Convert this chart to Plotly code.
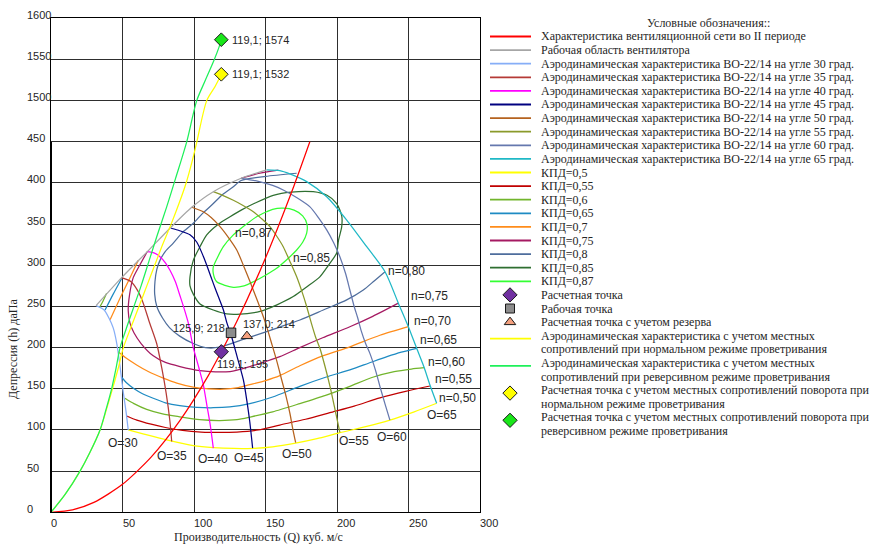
import plotly.graph_objects as go

FIG_W, FIG_H = 870, 545

# ---------------- data ----------------
# ventilation network characteristic (period II)
net_q = [0, 15, 30, 50, 70, 90, 110, 119.1, 130, 150, 170, 181]
net_h = [0, 3, 12, 34, 67, 111, 166, 195, 232, 309, 397, 450]

# working area (surge) boundary
work_q = [31.5, 49.4, 67.3, 83.2, 98.4, 113.5, 133, 150.8]
work_h = [251, 285, 316.5, 345, 370.5, 389.4, 405.7, 416]

# fan characteristics for blade angles 30..65
a30_q = [31.5, 37, 40.5, 43.5, 46, 48.3, 50.6, 52.5, 54]
a30_h = [251, 246, 236, 224, 205, 177, 145, 122, 100]
a35_q = [49.4, 56, 61, 64.5, 69, 73.9, 77.5, 80.5, 83.2, 84.4]
a35_h = [285, 280, 268, 254, 230, 205, 175, 145, 110, 86]
a40_q = [67.3, 72, 76.2, 80, 83.2, 87, 90.2, 93, 96, 99.5, 103.5, 106.5, 109, 111.2, 113.5]
a40_h = [316.5, 315, 310.5, 303, 294, 280, 263, 248, 230, 200, 175, 155, 130, 108, 78]
a45_q = [84, 90, 97.2, 102, 106.5, 110, 113.5, 117, 120.5, 123, 126, 130, 134.5, 137, 139, 141]
a45_h = [345, 342, 337, 328, 311, 295, 278, 262, 246, 230, 215, 190, 161, 135, 110, 78]
a50_q = [98.4, 106.5, 112, 118.2, 124, 129.9, 135, 139.2, 143, 146.5, 150, 154.3, 158, 161.3, 164.5, 167.1, 169, 171.1]
a50_h = [370.5, 365, 358, 347, 334, 318.6, 298, 280, 263, 247, 230, 205, 183, 161, 140, 120, 102, 84.5]
a55_q = [113.5, 120, 127.5, 134, 141.5, 147, 153.1, 158, 162.4, 167, 171.8, 175.5, 178.8, 182, 185, 188.1, 191.5, 195.1, 198, 202]
a55_h = [389.4, 385, 379, 373, 365, 357, 347, 335, 322.6, 305, 286, 268, 250, 230, 213, 199, 178, 153, 130, 97]
a60_q = [133, 145, 155, 162.4, 172, 181.1, 187, 192.8, 197.5, 202, 206, 209, 212, 214.5, 217, 220, 223, 227, 230, 233.5, 237]
a60_h = [405.7, 402, 397, 391.5, 382, 371, 358, 343, 328, 310.5, 290, 270, 250, 236, 220, 205, 193, 172, 153, 132, 112]
a65_q = [150.8, 160, 167, 178.8, 192.8, 206.8, 220.8, 233.6, 242.9, 249.9, 255.7, 261, 265, 269.7]
a65_h = [416, 415, 411, 401.6, 383.3, 355, 322.6, 292.2, 254, 225.4, 199.2, 175.6, 154.6, 132.4]

# efficiency contours
e50_q = [54, 65, 80.9, 99.5, 113.5, 128, 141.5, 155, 171, 186, 202, 220, 237, 254, 269.7]
e50_h = [100, 95, 88, 81, 78.5, 77.5, 77.7, 79.5, 84, 89.5, 96.7, 104, 112, 122, 132.4]
e55_q = [52.9, 60, 70, 80, 92, 105, 118, 130, 145, 160, 178, 195, 212, 230, 248, 265]
e55_h = [117, 112, 107, 103, 99.5, 97.5, 97, 97.5, 100, 106, 113, 121, 129, 139, 147, 153.4]
e60_q = [34, 36.5, 38.9, None, 51.7, 58, 66.9, 78, 90, 104, 118, 130, 140, 155, 174, 192, 209, 225, 240, 252, 261]
e60_h = [249, 257, 266, None, 138.5, 132, 125, 119.5, 116, 112.5, 111.5, 112.5, 116, 122, 132, 142, 153, 164, 170.8, 174, 175.6]
e65_q = [37.8, 43.5, 49.4, None, 49.4, 53, 57.6, 64, 71.5, 80, 90, 102, 113.5, 125, 139, 155, 174, 192, 209, 222, 235, 245, 255.7]
e65_h = [245.7, 265, 284, None, 164, 157, 150.6, 144, 138.5, 133, 129.5, 127.5, 127, 128, 132, 140, 153, 164, 173, 181, 189, 194.5, 199.2]
e70_q = [41.3, 48, 55, 61, None, 47, 52, 59.9, 68, 78.5, 88, 99.5, 110, 120.5, 131, 139, 150, 160, 174, 190, 209, 230, 249.9]
e70_h = [234, 259, 284, 306, None, 195, 188, 179, 171, 163, 157, 152, 150, 149.5, 151.5, 155, 160, 166, 178, 190, 201, 215, 225.4]
e75_q = [67.3, 62, 57.5, 55, 54, 55.2, 58, 63, 71.5, 80, 90.2, 104.2, 115, 125.2, 139, 150, 160, 174, 190, 209, 225, 242.9,
         None, 133, 145, 159]
e75_h = [316.5, 300, 285, 265, 245, 230, 218, 205, 190, 182, 177, 172, 170.5, 171, 177, 183, 189, 200, 212, 225.4, 238, 254,
         None, 405.7, 411.5, 415.6]
e80_q = [233.6, 226, 218.4, 206.8, 190.4, 174.1, 160, 150.8, 134.5, 118, 108, 99.5, 90, 83, 78, 74, 72.5, 72.7, 74, 76.2,
         80, 85.5, 92, 99.5, 106, 113.5, 120, 127.5, 133, 150, 171.8]
e80_h = [292.2, 281, 270, 258, 245.7, 233.6, 225, 219.4, 210, 200.5, 200, 205, 214, 224, 236, 250, 265, 280, 295, 306,
         317, 327, 340, 351, 363, 375, 386, 395.5, 403, 408, 411.8]
e85_q = [97.2, 99.5, 104, 108.9, 117, 125.2, 133, 142, 155.4, 168, 183.4, 193, 199.8, 203.3, 203.3, 201, 199.8, 194, 188,
         179, 169.4, 158, 146.2, 130, 122.9, 113.5, 104.2, 99.5, 97.2, 97.2]
e85_h = [286, 306, 322, 337, 350, 359, 367, 375, 385, 389, 389.4, 385, 375, 360, 347, 330, 315, 300, 286,
         274, 262, 252, 244, 240.5, 241, 245.7, 253, 265, 275, 286]
e87_q = [113.5, 115.9, 121, 127.5, 135, 141.5, 150, 157.8, 165, 171.8, 176, 178.8, 179, 176, 170, 162.4, 155, 150.8,
         143.8, 134.5, 127, 120.5, 116, 113.5, 113.5]
e87_h = [290, 280, 276, 273.3, 275, 280, 288, 296.4, 307, 318.6, 328, 339, 350, 360, 367, 369.3, 368, 365,
         359, 347, 336, 322.6, 308, 298, 290]

# characteristics with local resistances (normal / reverse ventilation)
nor_q = [0, 10, 20.3, 27, 34.3, 38.8, 43, 47, 50.6, 56, 61.5, 67, 72.5, 78, 84, 89.5, 94.5, 98.5, 102, 108.9, 114.7, 119.1]
nor_h = [0, 22, 50, 72, 100, 125, 150, 175, 200, 225, 250, 275, 300, 325, 350, 375, 400, 425, 450, 1500, 1517, 1532]
rev_q = [0, 10, 20.3, 27, 34.3, 38.5, 42.4, 45.5, 48.3, 53, 58, 63, 68.5, 74, 80.9, 87, 94.9, 101.9, 108, 114.2, 117.5, 119.1]
rev_h = [0, 22, 50, 72, 100, 125, 150, 175, 200, 225, 250, 275, 305, 335, 371, 405, 450, 1500, 1525, 1550, 1565, 1574]

# points
calc_q, calc_h = 119.1, 195
oper_q, oper_h = 125.9, 218
res_q, res_h = 137.0, 214
nor_pt_q, nor_pt_h = 119.1, 1532
rev_pt_q, rev_pt_h = 119.1, 1574

angles = [30, 35, 40, 45, 50, 55, 60, 65]
effs = ["0,50", "0,55", "0,60", "0,65", "0,70", "0,75", "0,80", "0,85", "0,87"]
y_ticks = [0, 50, 100, 150, 200, 250, 300, 350, 400, 450, 1500, 1550, 1600]
x_ticks = [0, 50, 100, 150, 200, 250, 300]

# ---------------- styling ----------------
C_NET = "#FF0000"
C_WORK = "#A6A6A6"
C_ANG = ["#86AEF7", "#B53A36", "#FF00FF", "#000080", "#B5621E", "#8A9A2B", "#6578AE", "#1FB8C6"]
C_EFF = ["#FFFF00", "#C00000", "#72B52C", "#1E8BC3", "#FF8C1A", "#A51A62", "#4E6D9C", "#2F6F31", "#33FF33"]
C_NOR = "#FFFF00"
C_REV = "#1EF05A"
C_CALC = "#7030A0"
C_OPER = "#8C8C8C"
C_RES = "#F4A07E"
C_NOR_PT = "#FFFF00"
C_REV_PT = "#19E619"
SANS = "Liberation Sans, Arial, sans-serif"
SERIF = "Liberation Serif, Times New Roman, serif"
TXT = "#262626"


def hy(h):
    """Broken y axis: 0..450 linear, 450..1500 squeezed into one step, 1500..1600 linear."""
    if h is None:
        return None
    if h <= 450:
        return h
    if h >= 1500:
        return h - 1000
    return 450 + (h - 450) * 50 / 1050


def disp(vals):
    return [hy(v) for v in vals]


def px_x(px):
    return px / FIG_W


def px_y(py):
    return 1 - py / FIG_H


fig = go.Figure()


def curve(q, h, color, width=1.25, smoothing=0.7):
    fig.add_trace(go.Scatter(
        x=q, y=disp(h), mode="lines",
        line=dict(color=color, width=width, shape="spline", smoothing=smoothing),
        connectgaps=False, hoverinfo="skip", showlegend=False))


eff_curves = [(e50_q, e50_h), (e55_q, e55_h), (e60_q, e60_h), (e65_q, e65_h), (e70_q, e70_h),
              (e75_q, e75_h), (e80_q, e80_h), (e85_q, e85_h), (e87_q, e87_h)]
ang_curves = [(a30_q, a30_h), (a35_q, a35_h), (a40_q, a40_h), (a45_q, a45_h),
              (a50_q, a50_h), (a55_q, a55_h), (a60_q, a60_h), (a65_q, a65_h)]

for (q, h), c in zip(eff_curves, C_EFF):
    curve(q, h, c)
for (q, h), c in zip(ang_curves, C_ANG):
    curve(q, h, c)
curve(work_q, work_h, C_WORK)
curve(net_q, net_h, C_NET)
curve(nor_q, nor_h, C_NOR, smoothing=0.8)
curve(rev_q, rev_h, C_REV, smoothing=0.8)


def point(q, h, symbol, color, size):
    fig.add_trace(go.Scatter(
        x=[q], y=[hy(h)], mode="markers",
        marker=dict(symbol=symbol, color=color, size=size, opacity=1,
                    line=dict(color="#1a1a1a", width=1)),
        hoverinfo="skip", showlegend=False))


point(calc_q, calc_h, "diamond", C_CALC, 11)
point(oper_q, oper_h, "square", C_OPER, 9.5)
point(res_q, res_h, "triangle-up", C_RES, 10)
point(nor_pt_q, nor_pt_h, "diamond", C_NOR_PT, 10.5)
point(rev_pt_q, rev_pt_h, "diamond", C_REV_PT, 10.5)


def fmt(q, h):
    return f"{q:.1f}".replace(".", ",") + "; " + f"{h:g}"


ann = []


def label(text, x, y, xanchor="center", xshift=0, yshift=0, size=12, xref="x", yref="y",
          family=SANS, angle=0, yanchor="middle"):
    ann.append(dict(text=text, x=x, y=y, xref=xref, yref=yref, xanchor=xanchor, yanchor=yanchor,
                    xshift=xshift, yshift=yshift, showarrow=False, textangle=angle,
                    font=dict(family=family, size=size, color=TXT)))


# point labels
label(fmt(rev_pt_q, rev_pt_h), rev_pt_q, hy(rev_pt_h), xanchor="left", xshift=9, size=11)
label(fmt(nor_pt_q, nor_pt_h), nor_pt_q, hy(nor_pt_h), xanchor="left", xshift=9, size=11)
label(fmt(oper_q, oper_h), oper_q, hy(oper_h), xanchor="right", xshift=-4, yshift=5, size=11)
label(fmt(res_q, res_h), res_q, hy(res_h), xanchor="left", xshift=-6, yshift=12, size=11)
label(fmt(calc_q, calc_h), calc_q, hy(calc_h), xanchor="left", xshift=-6, yshift=-12, size=11)

# blade angle labels
ang_lbl_q = [50.3, 84.6, 113.6, 138.5, 171.7, 211.9, 238.8, 273.4]
ang_lbl_h = [84.5, 68.4, 64.7, 66.3, 70.4, 87, 91.8, 118.2]
for a, q, h in zip(angles, ang_lbl_q, ang_lbl_h):
    label(f"O={a}", q, h)

# efficiency labels
eff_lbl_q = [284.3, 281.8, 276.9, 271.3, 266.8, 264.7, 248.3, 182.3, 141.5]
eff_lbl_h = [139.2, 161.9, 182.9, 209.3, 232.4, 263, 293, 308.5, 339.6]
for e, q, h in zip(effs, eff_lbl_q, eff_lbl_h):
    label(f"n={e}", q, h)

# tick labels (left aligned, as in the original layout)
for t in y_ticks:
    label(str(t), px_x(26), hy(t), xanchor="left", xref="paper", yshift=3.5, size=11, xshift=-1)
for t in x_ticks:
    label(str(t), t, px_y(523), xanchor="left", yref="paper", size=11, xshift=-2)

# axis titles
label("Производительность (Q) куб. м/с", px_x(258), px_y(537), xref="paper", yref="paper",
      family=SERIF, size=12)
label("Депрессия (h) даПа", px_x(13), px_y(349), xref="paper", yref="paper",
      family=SERIF, size=12, angle=-90)

# ---------------- legend ----------------
label("Условные обозначения::", px_x(708), px_y(23), xref="paper", yref="paper", family=SERIF, size=12)

angle_names = [f"Аэродинамическая характеристика ВО-22/14 на угле {a} град." for a in angles]
eff_names = ["КПД=0,5", "КПД=0,55", "КПД=0,6", "КПД=0,65", "КПД=0,7", "КПД=0,75", "КПД=0,8", "КПД=0,85", "КПД=0,87"]
legend_items = (
    [(["Характеристика вентиляционной сети во II периоде"], "line", C_NET),
     (["Рабочая область вентилятора"], "line", C_WORK)]
    + [([n], "line", c) for n, c in zip(angle_names, C_ANG)]
    + [([n], "line", c) for n, c in zip(eff_names, C_EFF)]
    + [(["Расчетная точка"], "diamond", C_CALC),
       (["Рабочая точка"], "square", C_OPER),
       (["Расчетная точка с учетом резерва"], "triangle-up", C_RES),
       (["Аэродинамическая характеристика с учетом местных",
         "сопротивлений при нормальном режиме проветривания"], "line", C_NOR),
       (["Аэродинамическая характеристика с учетом местных",
         "сопротивлений при реверсивном режиме проветривания"], "line", C_REV),
       (["Расчетная точка с учетом местных сопротивлений поворота при",
         "нормальном режиме проветривания"], "diamond", C_NOR_PT),
       (["Расчетная точка с учетом местных сопротивлений поворота при",
         "реверсивном режиме проветривания"], "diamond", C_REV_PT)]
)

ROW0, ROW_STEP = 36.5, 13.6
shapes = []
leg_mx, leg_my, leg_sym, leg_col, leg_size = [], [], [], [], []
row = 0
for lines, kind, color in legend_items:
    y0 = ROW0 + ROW_STEP * row
    for k, t in enumerate(lines):
        label(t, px_x(539), px_y(y0 + k * ROW_STEP), xanchor="left", xref="paper", yref="paper",
              family=SERIF, size=12)
    mid = y0 + (3 if len(lines) > 1 else 0)
    if kind == "line":
        shapes.append(dict(type="line", xref="paper", yref="paper", x0=px_x(490), x1=px_x(531),
                           y0=px_y(mid), y1=px_y(mid), line=dict(color=color, width=1.8)))
    else:
        leg_mx.append(510)
        leg_my.append(mid)
        leg_sym.append(kind)
        leg_col.append(color)
        leg_size.append({"diamond": 11, "square": 9, "triangle-up": 10}[kind])
    row += len(lines)

fig.add_trace(go.Scatter(
    x=leg_mx, y=leg_my, xaxis="x2", yaxis="y2", mode="markers",
    marker=dict(symbol=leg_sym, color=leg_col, size=leg_size, opacity=1,
                line=dict(color="#1a1a1a", width=1)),
    hoverinfo="skip", showlegend=False, cliponaxis=False))

# thicker lower part of the left axis (below the break)
shapes.append(dict(type="line", xref="x", yref="y", x0=0, x1=0, y0=0, y1=450,
                   line=dict(color="#000000", width=2)))

GRID = "#2e2e2e"
fig.update_layout(
    width=FIG_W, height=FIG_H,
    margin=dict(l=0, r=0, t=0, b=0),
    paper_bgcolor="white", plot_bgcolor="rgba(0,0,0,0)",
    showlegend=False,
    xaxis=dict(domain=[51 / FIG_W, 480 / FIG_W], range=[0, 300], tickvals=x_ticks,
               showticklabels=False, ticks="", showgrid=True, gridcolor=GRID, gridwidth=1,
               zeroline=False, showline=True, linecolor="#000000", linewidth=1, mirror=True),
    yaxis=dict(domain=[1 - 512.3 / FIG_H, 1 - 18.3 / FIG_H], range=[0, 600],
               tickvals=[hy(t) for t in y_ticks],
               showticklabels=False, ticks="", showgrid=True, gridcolor=GRID, gridwidth=1,
               zeroline=False, showline=True, linecolor="#000000", linewidth=1, mirror=True),
    xaxis2=dict(domain=[0, 1], range=[0, FIG_W], visible=False, anchor="y2", fixedrange=True),
    yaxis2=dict(domain=[0, 1], range=[FIG_H, 0], visible=False, anchor="x2", fixedrange=True),
    annotations=ann,
    shapes=shapes,
)

fig.write_html("out.html")
